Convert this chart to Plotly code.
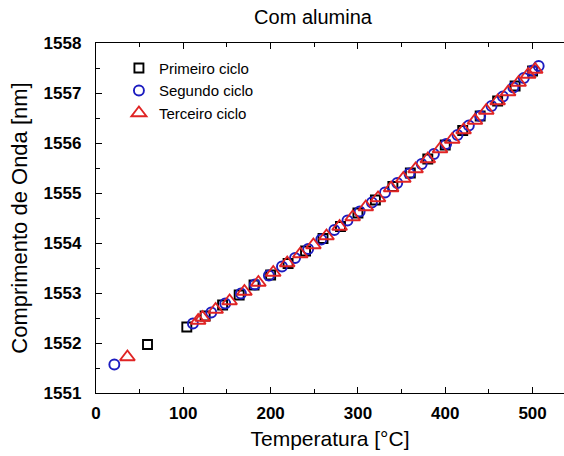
import plotly.graph_objects as go

# Primeiro ciclo (first heating cycle)
t1 = [59, 104, 125, 145, 164, 181, 200, 220, 240, 260, 280, 300, 320, 340, 360,
      380, 400, 420, 440, 460, 480, 500]
w1 = [1551.97, 1552.32, 1552.54, 1552.76, 1552.96, 1553.16, 1553.36, 1553.59,
      1553.84, 1554.09, 1554.33, 1554.60, 1554.86, 1555.13, 1555.40, 1555.68,
      1555.96, 1556.25, 1556.54, 1556.84, 1557.14, 1557.44]

# Segundo ciclo (second cycle)
t2 = [21, 111, 132, 148, 166, 182, 198, 213, 228, 243, 258, 273, 288, 302, 316,
      331, 345, 359, 373, 387, 401, 414, 427, 440, 453, 466, 478, 490, 500, 507]
w2 = [1551.57, 1552.39, 1552.61, 1552.79, 1552.99, 1553.17, 1553.35, 1553.53,
      1553.70, 1553.88, 1554.07, 1554.26, 1554.45, 1554.63, 1554.81, 1555.01,
      1555.20, 1555.39, 1555.58, 1555.78, 1555.98, 1556.16, 1556.35, 1556.54,
      1556.74, 1556.93, 1557.11, 1557.30, 1557.45, 1557.54]

# Terceiro ciclo (third cycle)
t3 = [36, 117, 122, 137, 153, 170, 186, 203, 219, 234, 249, 264, 279, 294, 309,
      323, 338, 352, 366, 380, 394, 408, 421, 434, 447, 460, 472, 484, 495, 503]
w3 = [1551.72, 1552.45, 1552.51, 1552.67, 1552.84, 1553.03, 1553.21, 1553.41,
      1553.60, 1553.78, 1553.96, 1554.14, 1554.33, 1554.52, 1554.72, 1554.90,
      1555.10, 1555.29, 1555.48, 1555.68, 1555.88, 1556.07, 1556.26, 1556.45,
      1556.65, 1556.84, 1557.02, 1557.21, 1557.37, 1557.47]

x_ticks = [0, 100, 200, 300, 400, 500]
y_ticks = [1551, 1552, 1553, 1554, 1555, 1556, 1557, 1558]

FONT = "Arial, Liberation Sans, sans-serif"

fig = go.Figure()
fig.add_trace(go.Scatter(
    x=t1, y=w1, mode="markers", name="Primeiro ciclo",
    marker=dict(symbol="square-open", size=9, color="black",
                line=dict(width=1.9, color="black"))))
fig.add_trace(go.Scatter(
    x=t2, y=w2, mode="markers", name="Segundo ciclo",
    marker=dict(symbol="circle-open", size=10, color="#1c1cc0",
                line=dict(width=1.9, color="#1c1cc0"))))
fig.add_trace(go.Scatter(
    x=t3, y=w3, mode="markers", name="Terceiro ciclo",
    marker=dict(symbol="triangle-up-open", size=13, color="#e02424",
                line=dict(width=1.9, color="#e02424"))))

axis_common = dict(
    showgrid=False, zeroline=False, showline=True, linecolor="black",
    linewidth=1.3, ticks="inside", ticklen=6, tickwidth=1.3, tickcolor="black",
    tickfont=dict(family=FONT, size=17, color="black", weight="bold"),
)

fig.update_layout(
    width=564, height=456,
    margin=dict(l=96, r=0, t=43, b=63),
    paper_bgcolor="white", plot_bgcolor="white",
    title=dict(text="Com alumina", x=0.555, xanchor="center", y=0.962,
               yanchor="middle", font=dict(family=FONT, size=20, color="black")),
    xaxis=dict(
        range=[0, 536], tickvals=x_ticks, mirror="ticks", ticklabelstandoff=4,
        minor=dict(dtick=50, ticks="inside", ticklen=4, tickwidth=1.3,
                   tickcolor="black"),
        title=dict(text="Temperatura [°C]", standoff=9,
                   font=dict(family=FONT, size=21, color="black")),
        **axis_common),
    yaxis=dict(
        range=[1551, 1558], tickvals=y_ticks, mirror=False, ticklabelstandoff=10,
        minor=dict(dtick=0.5, ticks="inside", ticklen=4, tickwidth=1.3,
                   tickcolor="black"),
        title=dict(text="Comprimento de Onda [nm]", standoff=9,
                   font=dict(family=FONT, size=22, color="black")),
        **axis_common),
    legend=dict(x=0.049, y=0.975, xanchor="left", yanchor="top",
                bgcolor="rgba(0,0,0,0)", borderwidth=0, tracegroupgap=0,
                font=dict(family=FONT, size=15, color="black")),
    showlegend=True,
)

fig.write_html("out.html")
